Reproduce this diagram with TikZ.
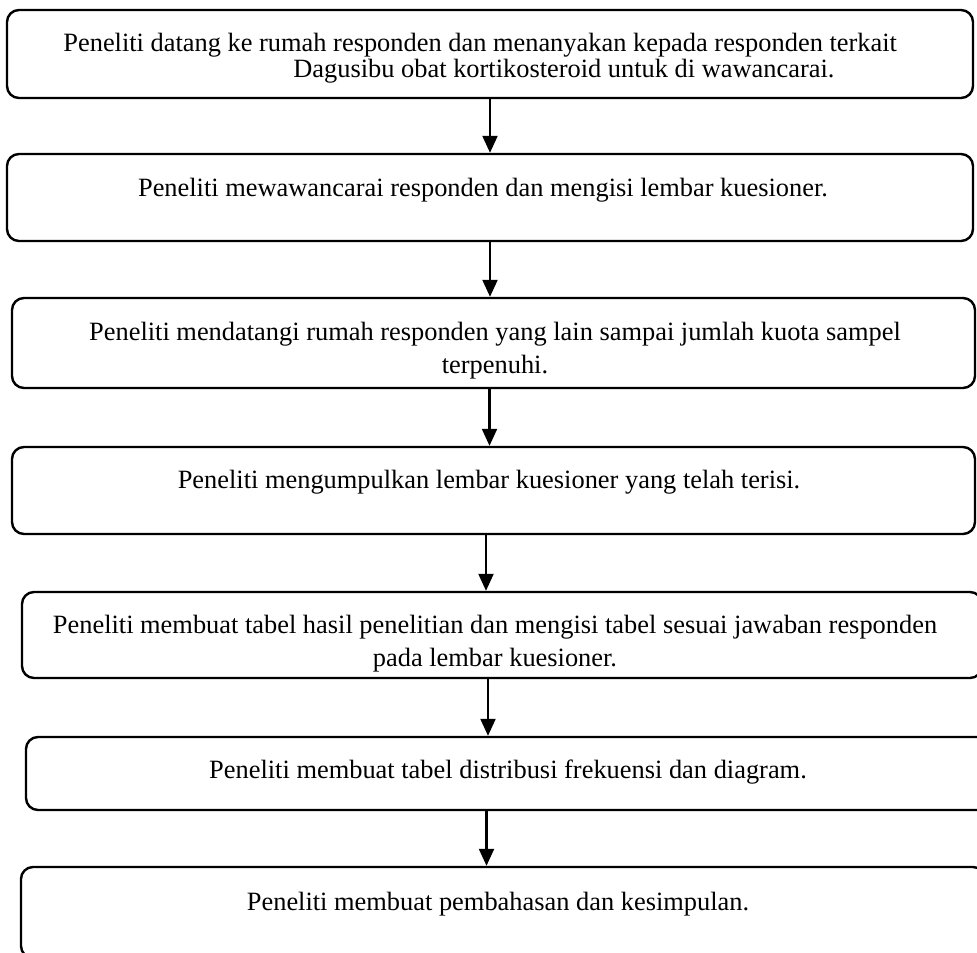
\documentclass[tikz,border=0pt]{standalone}
\usepackage{fontspec}
\setmainfont{Liberation Serif}
\usetikzlibrary{arrows.meta}

\tikzset{
    stepbox/.style={draw, line width=1.2pt, rounded corners=6pt, inner sep=0pt},
    steptext/.style={anchor=base, align=center, inner sep=0pt,
        font=\fontsize{13.2}{16.5}\selectfont},
    flow/.style={line width=1.1pt, -{Triangle[width=7.5pt,length=8.5pt]}}
}

\begin{document}
\begin{tikzpicture}[x=0.5pt,y=-0.5pt]
                        \useasboundingbox (0,0) rectangle (977,952);
                        % boxes
                        \node[stepbox, minimum width=483pt, minimum height=44pt] (b1) at (490,54) {};
                        \node[stepbox, minimum width=483pt, minimum height=43.5pt] (b2) at (490,197.5) {};
                        \node[stepbox, minimum width=481.5pt, minimum height=45pt] (b3) at (493.5,343) {};
                        \node[stepbox, minimum width=481.5pt, minimum height=43.5pt] (b4) at (493.5,490.5) {};
                        \node[stepbox, minimum width=480pt, minimum height=43pt] (b5) at (502,635) {};
                        \node[stepbox, minimum width=484.5pt, minimum height=36.5pt] (b6) at (510.5,773.5) {};
                        \node[stepbox, minimum width=482pt, minimum height=45.5pt] (b7) at (503,912.5) {};
                        % texts (base = last line)
                        \node[steptext, anchor=base west, align=left, font=\fontsize{13.2}{13}\selectfont] (t1) at (63,78)
                            {Peneliti datang ke rumah responden dan menanyakan kepada responden terkait\\
                             \hspace*{115pt}Dagusibu obat kortikosteroid untuk di wawancarai.};
                        \node[steptext] (t2) at (483,196) {Peneliti mewawancarai responden dan mengisi lembar kuesioner.};
                        \node[steptext] (t3) at (495,373)
                            {Peneliti mendatangi rumah responden yang lain sampai jumlah kuota sampel\\terpenuhi.};
                        \node[steptext] (t4) at (489,488) {Peneliti mengumpulkan lembar kuesioner yang telah terisi.};
                        \node[steptext] (t5) at (495,666)
                            {Peneliti membuat tabel hasil penelitian dan mengisi tabel sesuai jawaban responden\\pada lembar kuesioner.};
                        \node[steptext] (t6) at (508,778) {Peneliti membuat tabel distribusi frekuensi dan diagram.};
                        \node[steptext] (t7) at (498,910) {Peneliti membuat pembahasan dan kesimpulan.};
                        % arrows
                        \foreach \a/\b/\dx in {b1/b2/0, b2/b3/0, b3/b4/-2, b4/b5/-3.75, b5/b6/-7, b6/b7/-12}
                        {
                            \draw[flow] ([xshift=\dx pt]\a.south) -- ([xshift=\dx pt]\a.south |- \b.north);
                        }
                    \end{tikzpicture}
\end{document}
